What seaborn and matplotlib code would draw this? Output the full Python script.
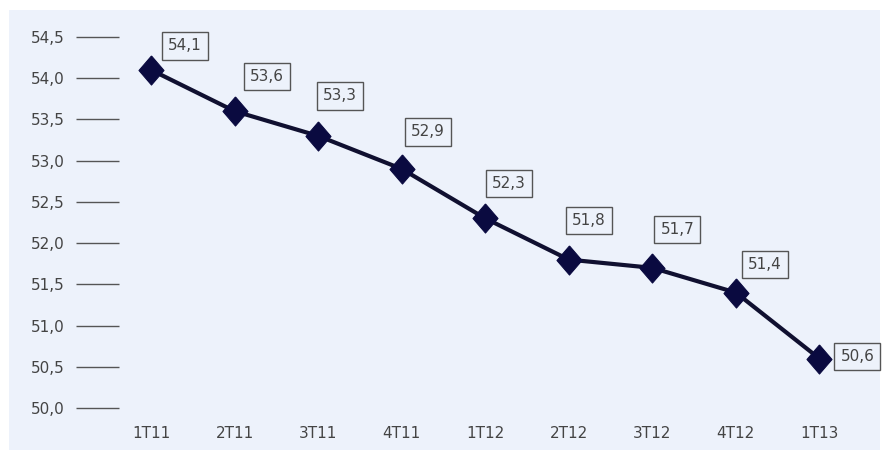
import matplotlib
matplotlib.use('Agg')
import matplotlib.pyplot as plt
import seaborn as sns
import pandas as pd
from matplotlib.patches import Rectangle

# Data
quarters = ['1T11', '2T11', '3T11', '4T11', '1T12', '2T12', '3T12', '4T12', '1T13']
values = [54.1, 53.6, 53.3, 52.9, 52.3, 51.8, 51.7, 51.4, 50.6]
y_ticks = [50.0, 50.5, 51.0, 51.5, 52.0, 52.5, 53.0, 53.5, 54.0, 54.5]

df = pd.DataFrame({'quarter': quarters, 'value': values})

sns.set_theme(style='white')
plt.rcParams['font.family'] = ['DejaVu Sans']

fig = plt.figure(figsize=(8.84, 4.54), dpi=100)
fig.patch.set_facecolor('white')
# scanned light-blue background
fig.patches.append(Rectangle((9 / 884, 4 / 454), 871 / 884, 440 / 454,
                             transform=fig.transFigure, facecolor='#edf2fb',
                             edgecolor='none', zorder=-5))

ax = fig.add_axes([76 / 884, 46 / 454, 806 / 884, 371 / 454])
ax.set_facecolor('none')
ax.set_zorder(2)

# slightly tall diamond
diamond = [(0, 1), (0.86, 0), (0, -1), (-0.86, 0), (0, 1)]
sns.lineplot(data=df, x='quarter', y='value', sort=False, ax=ax,
             color='#101030', linewidth=3, marker=diamond, markersize=21,
             markerfacecolor='#0a0a40', markeredgecolor='#0a0a40')

ax.set_xlim(-0.9, 8.75)
ax.set_ylim(50.0, 54.5)
ax.set_yticks(y_ticks)
ax.set_yticklabels([f'{v:.1f}'.replace('.', ',') for v in y_ticks])
ax.tick_params(axis='y', direction='in', length=31, width=1.0, color='#555555',
               pad=8, labelsize=11, labelcolor='#444444', left=True)
ax.tick_params(axis='x', length=0, pad=13, labelsize=11, labelcolor='#444444')
for s in ax.spines.values():
    s.set_visible(False)
ax.set_xlabel('')
ax.set_ylabel('')
ax.grid(False)

# label offsets in pixels
offsets = [(34, 24), (32, 35), (22, 40), (26, 37), (24, 35), (20, 39), (25, 38), (29, 28), (38, 2)]
for i, (v, (dx, dy)) in enumerate(zip(values, offsets)):
    ax.annotate(f'{v:.1f}'.replace('.', ','), (i, v),
                xytext=(dx * 0.72, dy * 0.72), textcoords='offset points',
                ha='center', va='center', fontsize=11, color='#444444',
                bbox=dict(boxstyle='square,pad=0.4', facecolor='none',
                          edgecolor='#555555', linewidth=1))

fig.savefig('out.png', dpi=100)
